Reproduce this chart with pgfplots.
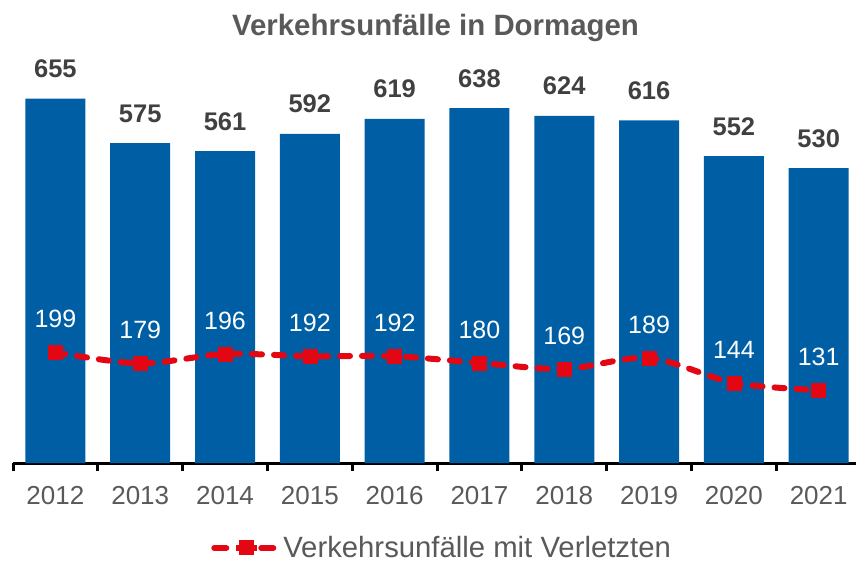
\documentclass[border=0pt]{standalone}
\usepackage{pgfplots}
\pgfplotsset{compat=1.18}
\usepackage{fontspec}
\setmainfont{Liberation Sans}
\definecolor{barblue}{RGB}{0,95,164}
\definecolor{linered}{RGB}{227,6,19}
\definecolor{titlegray}{RGB}{89,89,89}
\definecolor{labelgray}{RGB}{64,64,64}
\begin{document}
\begin{tikzpicture}
\path[use as bounding box] (-13pt,-100pt) rectangle (843pt,463pt);
\begin{axis}[
  scale only axis, width=843pt, height=389.3pt,
  xmin=-0.5, xmax=9.44, ymin=0, ymax=700,
  axis x line*=bottom, axis y line=none,
  x axis line style={line width=3pt, -},
  /pgf/number format/assume math mode=true,
  xtick={0,...,9},
  xticklabels={2012,2013,2014,2015,2016,2017,2018,2019,2020,2021},
  major tick length=0pt,
  minor xtick={-0.5,0.5,...,8.5},
  minor tick length=8pt,
  tick align=outside,
  minor tick style={line width=3pt, black},
  xticklabel style={font=\fontsize{26}{30}\selectfont, text=titlegray, anchor=base, yshift=-41pt},
  legend style={at={(rel axis cs:0.509,-0.2183)}, anchor=center, draw=none, fill=none,
    font=\fontsize{29.3}{33}\selectfont, text=titlegray},
  clip=false,
]
\addplot[ybar, bar width=60pt, fill=barblue, draw=none, forget plot,
  nodes near coords,
  every node near coord/.append style={font=\bfseries\fontsize{25.5}{30}\selectfont, text=labelgray, anchor=base, yshift=21pt}]
  coordinates {(0,655) (1,575) (2,561) (3,592) (4,619) (5,638) (6,624) (7,616) (8,552) (9,530)};
\addplot[linered, line width=6pt, smooth, line cap=round, dash pattern=on 10pt off 12pt,
  mark=square*, mark size=7pt, mark options={solid, line width=0.5pt, fill=linered},
  nodes near coords,
  every node near coord/.append style={font=\fontsize{25}{30}\selectfont, text=white, anchor=base, yshift=24.5pt},
  legend image code/.code={
    \begin{scope}[solid]
    \path[draw=none, fill=none] (0pt,-8pt) rectangle (70pt,8pt);
    \draw[linered, line width=6pt, line cap=round] (3pt,0pt) -- (15pt,0pt);
    \draw[linered, line width=6pt, line cap=round] (50pt,0pt) -- (62pt,0pt);
    \draw[linered, line width=6pt, line cap=butt] (25pt,0pt) -- (46pt,0pt);
    \fill[linered, draw=none] (28pt,-7.5pt) rectangle (43pt,7.5pt);
    \end{scope}
  }]
  coordinates {(0,199) (1,179) (2,196) (3,192) (4,192) (5,180) (6,169) (7,189) (8,144) (9,131)};
\addlegendentry{Verkehrsunfälle mit Verletzten}
\end{axis}
\node[font=\bfseries\fontsize{29.4}{34}\selectfont, text=titlegray, anchor=base] at (422.5pt,427pt) {Verkehrsunfälle in Dormagen};
\end{tikzpicture}
\end{document}
